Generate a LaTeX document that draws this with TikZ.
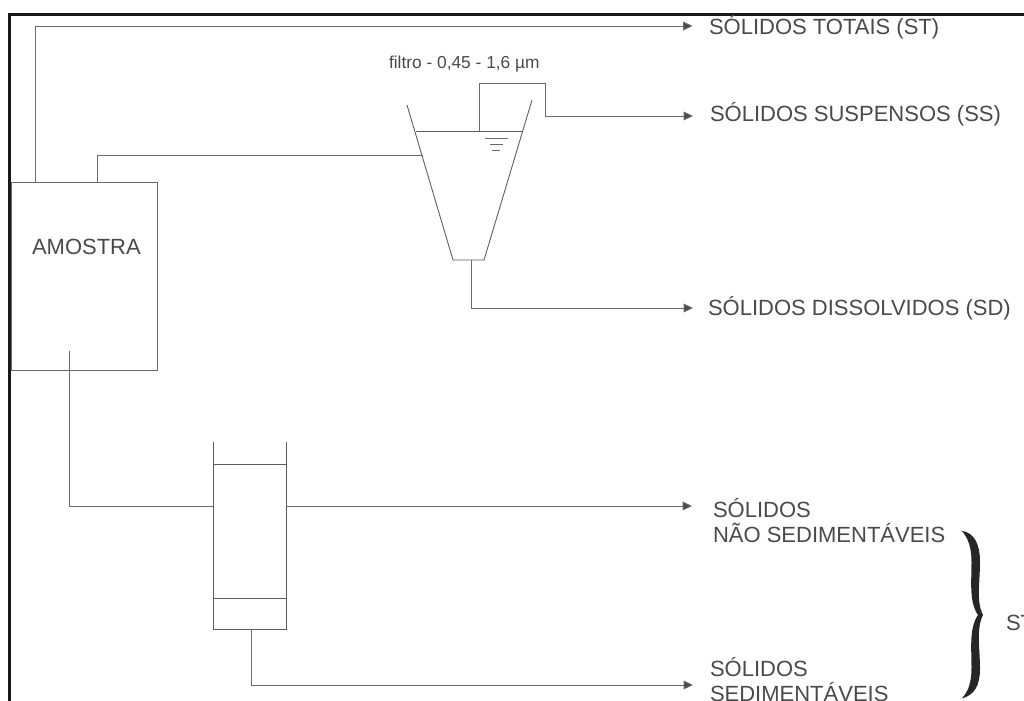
\documentclass[tikz,border=0pt]{standalone}
\usepackage{fontspec}
\setmainfont{Liberation Sans}
\definecolor{ink}{HTML}{4A4A4A}
\definecolor{wire}{HTML}{6A6A6A}
\usetikzlibrary{arrows.meta}
\tikzset{
  x=0.75pt,y=-0.75pt,
  wireline/.style={draw=wire,line width=0.7pt,line cap=rect},
  flow/.style={wireline,-{Triangle[length=7pt,width=6.5pt,fill=ink]}},
  vessel/.style={draw=ink!90,line width=0.65pt,line join=miter},
  lab/.style={text=ink,font=\fontsize{16.5pt}{20pt}\selectfont,anchor=base west,inner sep=0pt,outer sep=0pt,align=left},
  box/.style={draw=wire,line width=0.7pt,inner sep=0pt,minimum width=146.5*0.75pt,minimum height=188*0.75pt},
}
\begin{document}
\begin{tikzpicture}
\useasboundingbox (0,0) rectangle (1024,700);
\clip (0,0) rectangle (1024,700);
\fill[white] (0,0) rectangle (1024,700);
% frame
\coordinate (fa) at (9.5,800);
\coordinate (fb) at (9.5,14.5);
\coordinate (fc) at (1100,14.5);
\draw[black!90,line width=1.6pt] (fa) -- (fb) -- (fc);
% sample box
\node[box] (amostra) at (84.4,276.2) {};
\node[lab] (amostratxt) at (32,254.5) {AMOSTRA};
% filter cone
\coordinate (flt) at (407,105);
\coordinate (flb) at (453,260);
\coordinate (frt) at (532,100);
\coordinate (frb) at (484,260);
\coordinate (wl) at (416,131.3);
\coordinate (wr) at (523,131.3);
\draw[vessel] (flt) -- (flb) -- (frb) -- (frt);
\draw[vessel] (wl) -- (wr);
\coordinate (s1a) at (485,138.7); \coordinate (s1b) at (508,138.7);
\coordinate (s2a) at (490,144.7); \coordinate (s2b) at (503,144.7);
\coordinate (s3a) at (492,150.7); \coordinate (s3b) at (500,150.7);
\draw[wire,line width=0.65pt] (s1a) -- (s1b) (s2a) -- (s2b) (s3a) -- (s3b);
\node[lab,font=\fontsize{13pt}{15pt}\selectfont] (filtro) at (389,68) {filtro - 0,45 - 1,6 µm};
% settling column
\coordinate (clt) at (213,441.7);
\coordinate (clb) at (213,629);
\coordinate (crb) at (286.5,629);
\coordinate (crt) at (286.5,441.7);
\coordinate (cua) at (213,464); \coordinate (cub) at (286.5,464);
\coordinate (cla) at (213,598); \coordinate (clc) at (286.5,598);
\draw[vessel] (clt) -- (clb) -- (crb) -- (crt);
\draw[vessel] (cua) -- (cub) (cla) -- (clc);
% labels
\node[lab] (st) at (709,34) {SÓLIDOS TOTAIS (ST)};
\node[lab] (ss) at (710,121.5) {SÓLIDOS SUSPENSOS (SS)};
\node[lab] (sd) at (708,315) {SÓLIDOS DISSOLVIDOS (SD)};
\node[lab] (sn1) at (713,517) {SÓLIDOS};
\node[lab] (sn2) at (713,542) {NÃO SEDIMENTÁVEIS};
\node[lab] (se1) at (710,676.5) {SÓLIDOS};
\node[lab] (se2) at (710,701) {SEDIMENTÁVEIS};
\node[lab] (stb) at (1006,630) {ST};
% arrow ends
\coordinate (ast) at (692.5,26);
\coordinate (ass) at (693,116);
\coordinate (asd) at (693,308);
\coordinate (asn) at (692,506);
\coordinate (ase) at (693,685);
% connectors
\coordinate (p1) at (35,182);
\coordinate (p2) at (97,182);
\coordinate (p3) at (423,155);
\coordinate (p4) at (69,351);
\coordinate (p5) at (213,506);
\coordinate (p6) at (286.5,506);
\coordinate (p7) at (479,131.3);
\coordinate (p8) at (545,83);
\coordinate (p9) at (471,260);
\coordinate (p10) at (251.5,629);
\draw[flow] (p1) |- (ast);
\draw[wireline] (p2) |- (p3);
\draw[wireline] (p7) |- (p8);
\draw[flow] (p8) |- (ass);
\draw[flow] (p9) |- (asd);
\draw[wireline] (p4) |- (p5);
\draw[flow] (p6) -- (asn);
\draw[flow] (p10) |- (ase);
% brace
\fill[black!85] (961.7,530.7)
  .. controls (975,533) and (980,545) .. (980,562)
  .. controls (980,582) and (976,602) .. (983,615)
  .. controls (976,628) and (980,650) .. (980,668)
  .. controls (980,685) and (975,695) .. (961.7,698.5)
  .. controls (968,692) and (971.5,683) .. (971.5,668)
  .. controls (971.5,648) and (969,628) .. (978,615)
  .. controls (969,602) and (971.5,582) .. (971.5,562)
  .. controls (971.5,547) and (968,538) .. (961.7,530.7) -- cycle;
\end{tikzpicture}
\end{document}
